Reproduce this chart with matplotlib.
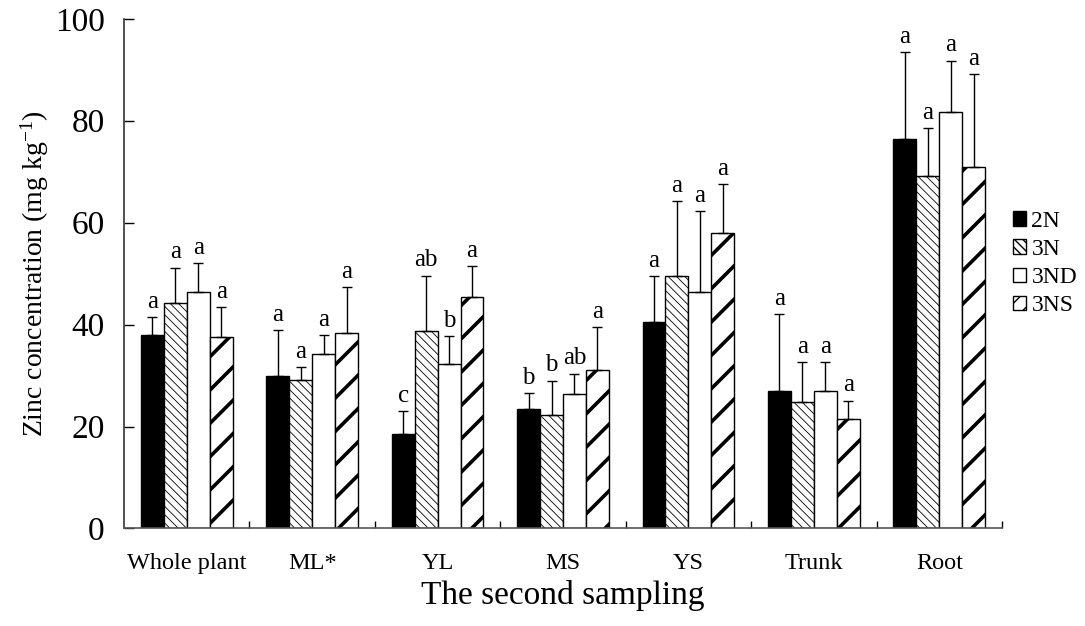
import matplotlib
matplotlib.use("Agg")
import matplotlib.pyplot as plt
from matplotlib.patches import Patch
import numpy as np

plt.rcParams["font.family"] = ["Liberation Serif", "DejaVu Serif"]
plt.rcParams["mathtext.fontset"] = "custom"
plt.rcParams["mathtext.rm"] = "Liberation Serif"
plt.rcParams["mathtext.default"] = "regular"

# Data: zinc concentration (mean and upper error) per tissue and treatment
categories = ["Whole plant", "ML*", "YL", "MS", "YS", "Trunk", "Root"]
treatments = ["2N", "3N", "3ND", "3NS"]

zn_2N = [38.0, 30.0, 18.6, 23.4, 40.6, 27.0, 76.4]
zn_3N = [44.2, 29.1, 38.7, 22.3, 49.5, 24.8, 69.2]
zn_3ND = [46.3, 34.2, 32.3, 26.4, 46.3, 26.9, 81.8]
zn_3NS = [37.6, 38.4, 45.5, 31.1, 58.0, 21.5, 70.9]

err_2N = [3.4, 8.9, 4.4, 3.2, 8.9, 15.1, 17.1]
err_3N = [7.0, 2.6, 10.9, 6.7, 14.8, 7.9, 9.3]
err_3ND = [5.7, 3.8, 5.5, 4.0, 16.0, 5.8, 10.0]
err_3NS = [5.9, 8.9, 6.0, 8.4, 9.6, 3.6, 18.3]

sig_2N = ["a", "a", "c", "b", "a", "a", "a"]
sig_3N = ["a", "a", "ab", "b", "a", "a", "a"]
sig_3ND = ["a", "a", "b", "ab", "a", "a", "a"]
sig_3NS = ["a", "a", "a", "a", "a", "a", "a"]

means = [zn_2N, zn_3N, zn_3ND, zn_3NS]
errs = [err_2N, err_3N, err_3ND, err_3NS]
sigs = [sig_2N, sig_3N, sig_3ND, sig_3NS]

styles = [
    dict(facecolor="black", hatch=None, leg_hatch=None, hlw=1.0),
    dict(facecolor="white", hatch="\\\\\\\\", leg_hatch="\\\\\\\\", hlw=0.6),
    dict(facecolor="white", hatch=None, leg_hatch=None, hlw=1.0),
    dict(facecolor="white", hatch="/", leg_hatch="//", hlw=2.6),
]

fig = plt.figure(figsize=(10.85, 6.26), dpi=100)
ax = fig.add_axes([0.1143, 0.1558, 0.8092, 0.8142])

x = np.arange(len(categories))
width = 0.183
offsets = (np.arange(4) - 1.5) * width

handles = []
for i, name in enumerate(treatments):
    st = styles[i]
    with plt.rc_context({"hatch.linewidth": st["hlw"], "hatch.color": "black"}):
        bars = ax.bar(x + offsets[i], means[i], width, facecolor=st["facecolor"],
                      edgecolor="black", linewidth=1.0, hatch=st["hatch"],
                      zorder=2)
        proxy = Patch(facecolor=st["facecolor"], edgecolor="black",
                      linewidth=1.0, hatch=st["leg_hatch"], label=name)
    for p in list(bars) + [proxy]:
        if hasattr(p, "set_hatch_linewidth"):
            p.set_hatch_linewidth(st["hlw"])
    handles.append(proxy)
    ax.errorbar(x + offsets[i], means[i],
                yerr=[np.zeros(len(categories)), errs[i]],
                fmt="none", ecolor="black", elinewidth=1.0, capsize=3.5,
                capthick=1.0, zorder=3)
    for xi, m, e, s in zip(x + offsets[i], means[i], errs[i], sigs[i]):
        ax.annotate(s, (xi, m + e), xytext=(0, 3), textcoords="offset points",
                    ha="center", va="bottom", fontsize=18)

ax.set_xlim(-0.5, len(categories) - 0.5)
ax.set_ylim(0, 100)
ax.set_yticks(np.arange(0, 101, 20))
ax.tick_params(axis="y", direction="in", length=7, width=1.0, labelsize=24, pad=14)
ax.set_xticks(x)
ax.set_xticklabels(categories, fontsize=17.5)
ax.tick_params(axis="x", which="major", length=0, pad=18)
ax.set_xticks(np.arange(0.5, len(categories), 1.0), minor=True)
ax.tick_params(axis="x", which="minor", direction="in", length=5, width=1.0)

for side in ["top", "right"]:
    ax.spines[side].set_visible(False)
ax.spines["left"].set_color("#333333")
ax.spines["bottom"].set_color("#555555")
ax.spines["left"].set_linewidth(1.2)
ax.spines["bottom"].set_linewidth(1.2)

ax.set_ylabel(r"Zinc concentration (mg kg$^{-1}$)", fontsize=20, labelpad=3)
ax.set_xlabel("The second sampling", fontsize=24, labelpad=4)

leg = ax.legend(handles=handles, loc="center left", bbox_to_anchor=(1.012, 0.52),
                frameon=False, fontsize=17, handlelength=0.55, handleheight=0.55,
                handletextpad=0.25, labelspacing=0.3, borderaxespad=0.0,
                borderpad=0.0)

fig.savefig("out.png", dpi=100)
